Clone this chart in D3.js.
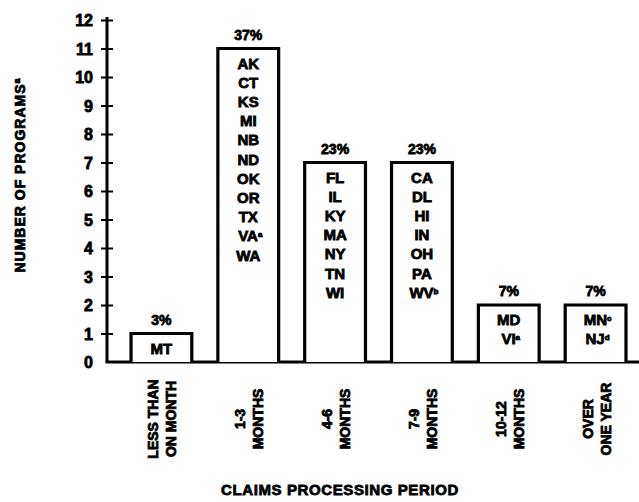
<!DOCTYPE html>
<html>
<head>
<meta charset="utf-8">
<script src="https://cdn.jsdelivr.net/npm/d3@7"></script>
<style>
  html, body { margin: 0; padding: 0; background: #fff; }
  svg text { font-family: "Liberation Sans", Arial, Helvetica, sans-serif; font-weight: 700; fill: #000; }
</style>
</head>
<body>
<svg id="chart" width="639" height="502"></svg>
<script>
// ---- data ----
const categoryLine1 = ["LESS THAN", "1-3", "4-6", "7-9", "10-12", "OVER"];
const categoryLine2 = ["ON MONTH", "MONTHS", "MONTHS", "MONTHS", "MONTHS", "ONE YEAR"];
const programCounts = [1, 11, 7, 7, 2, 2];
const percentLabels = ["3%", "37%", "23%", "23%", "7%", "7%"];
const stateLists = [
  [["MT", ""]],
  [["AK", ""], ["CT", ""], ["KS", ""], ["MI", ""], ["NB", ""], ["ND", ""], ["OK", ""], ["OR", ""], ["TX", ""], ["VA", "a"], ["WA", ""]],
  [["FL", ""], ["IL", ""], ["KY", ""], ["MA", ""], ["NY", ""], ["TN", ""], ["WI", ""]],
  [["CA", ""], ["DL", ""], ["HI", ""], ["IN", ""], ["OH", ""], ["PA", ""], ["WV", "b"]],
  [["MD", ""], ["VI", "a"]],
  [["MN", "c"], ["NJ", "d"]]
];
const yTicks = [0, 1, 2, 3, 4, 5, 6, 7, 8, 9, 10, 11, 12];
const yTitle = "NUMBER OF PROGRAMS";
const yTitleSup = "a";
const xTitle = "CLAIMS PROCESSING PERIOD";

// ---- layout ----
const svg = d3.select("#chart");
const axisX = 107, baseY = 362, topY = 20, rightX = 639;
const heavy = 0.8;

const x = d3.scaleBand()
  .domain(d3.range(categoryLine1.length))
  .range([118, rightX])
  .paddingInner(0.3)
  .paddingOuter(0.15);

const y = d3.scaleLinear().domain([0, 12]).range([baseY, topY]);

// y axis
const yAxis = d3.axisLeft(y).tickValues(yTicks).tickSize(6).tickPadding(8);
const gy = svg.append("g").attr("transform", `translate(${axisX},0)`).call(yAxis);
gy.select(".domain").remove();
gy.selectAll(".tick line").attr("x1", 6).attr("stroke", "#000").attr("stroke-width", 2)
  .filter(d => d === 0).remove();
gy.selectAll(".tick text")
  .style("font-size", "16px")
  .style("font-family", "'Liberation Sans', Arial, sans-serif")
  .style("font-weight", "700")
  .attr("fill", "#000")
  .attr("stroke", "#000").attr("stroke-width", heavy)
  .attr("dy", "0.36em");

// axis lines
svg.append("line").attr("x1", axisX).attr("x2", axisX).attr("y1", topY - 3).attr("y2", baseY)
  .attr("stroke", "#000").attr("stroke-width", 3);
svg.append("line").attr("x1", axisX - 1.5).attr("x2", rightX).attr("y1", baseY).attr("y2", baseY)
  .attr("stroke", "#000").attr("stroke-width", 3);

// bars
const bars = svg.append("g").selectAll("g.bar")
  .data(programCounts.map((v, i) => ({ v, i })))
  .join("g").attr("class", "bar");

bars.append("path")
  .attr("d", d => {
    const x0 = x(d.i), x1 = x(d.i) + x.bandwidth(), y0 = y(d.v);
    return `M${x0},${baseY} V${y0} H${x1} V${baseY}`;
  })
  .attr("fill", "#fff").attr("stroke", "#000").attr("stroke-width", 3.2);

bars.append("text")
  .attr("x", d => x(d.i) + x.bandwidth() / 2)
  .attr("y", d => y(d.v) - 9)
  .attr("text-anchor", "middle")
  .style("font-size", "14px")
  .attr("stroke", "#000").attr("stroke-width", heavy)
  .text(d => percentLabels[d.i]);

bars.each(function (d) {
  const g = d3.select(this);
  stateLists[d.i].forEach((s, k) => {
    const t = g.append("text")
      .attr("x", x(d.i) + x.bandwidth() / 2 + (s[1] ? 2 : 0))
      .attr("y", y(d.v) + 20 + k * 19.2)
      .attr("text-anchor", "middle")
      .style("font-size", "15px")
      .attr("stroke", "#000").attr("stroke-width", heavy);
    t.append("tspan").text(s[0]);
    if (s[1]) t.append("tspan").attr("baseline-shift", "super").style("font-size", "8px").text(s[1]);
  });
});

// category labels (rotated)
const cat = svg.append("g").selectAll("g.cat")
  .data(categoryLine1.map((c, i) => i))
  .join("g").attr("class", "cat");
cat.append("text")
  .attr("transform", i => `translate(${x(i) + x.bandwidth() / 2 - 8},419) rotate(-90)`)
  .attr("text-anchor", "middle").attr("dy", "0.36em")
  .style("font-size", "14px")
  .attr("stroke", "#000").attr("stroke-width", heavy)
  .text(i => categoryLine1[i]);
cat.append("text")
  .attr("transform", i => `translate(${x(i) + x.bandwidth() / 2 + 10},419) rotate(-90)`)
  .attr("text-anchor", "middle").attr("dy", "0.36em")
  .style("font-size", "14px")
  .attr("stroke", "#000").attr("stroke-width", heavy)
  .text(i => categoryLine2[i]);

// axis titles
svg.append("text")
  .attr("x", 340).attr("y", 495)
  .attr("text-anchor", "middle")
  .style("font-size", "15px")
  .style("letter-spacing", "0.6px")
  .attr("stroke", "#000").attr("stroke-width", heavy)
  .text(xTitle);

const yt = svg.append("text")
  .attr("transform", "translate(20,175) rotate(-90)")
  .attr("text-anchor", "middle").attr("dy", "0.36em")
  .style("font-size", "14px")
  .style("letter-spacing", "1px")
  .attr("stroke", "#000").attr("stroke-width", heavy);
yt.append("tspan").text(yTitle);
yt.append("tspan").attr("baseline-shift", "super").style("font-size", "9px").text(yTitleSup);
</script>
</body>
</html>
